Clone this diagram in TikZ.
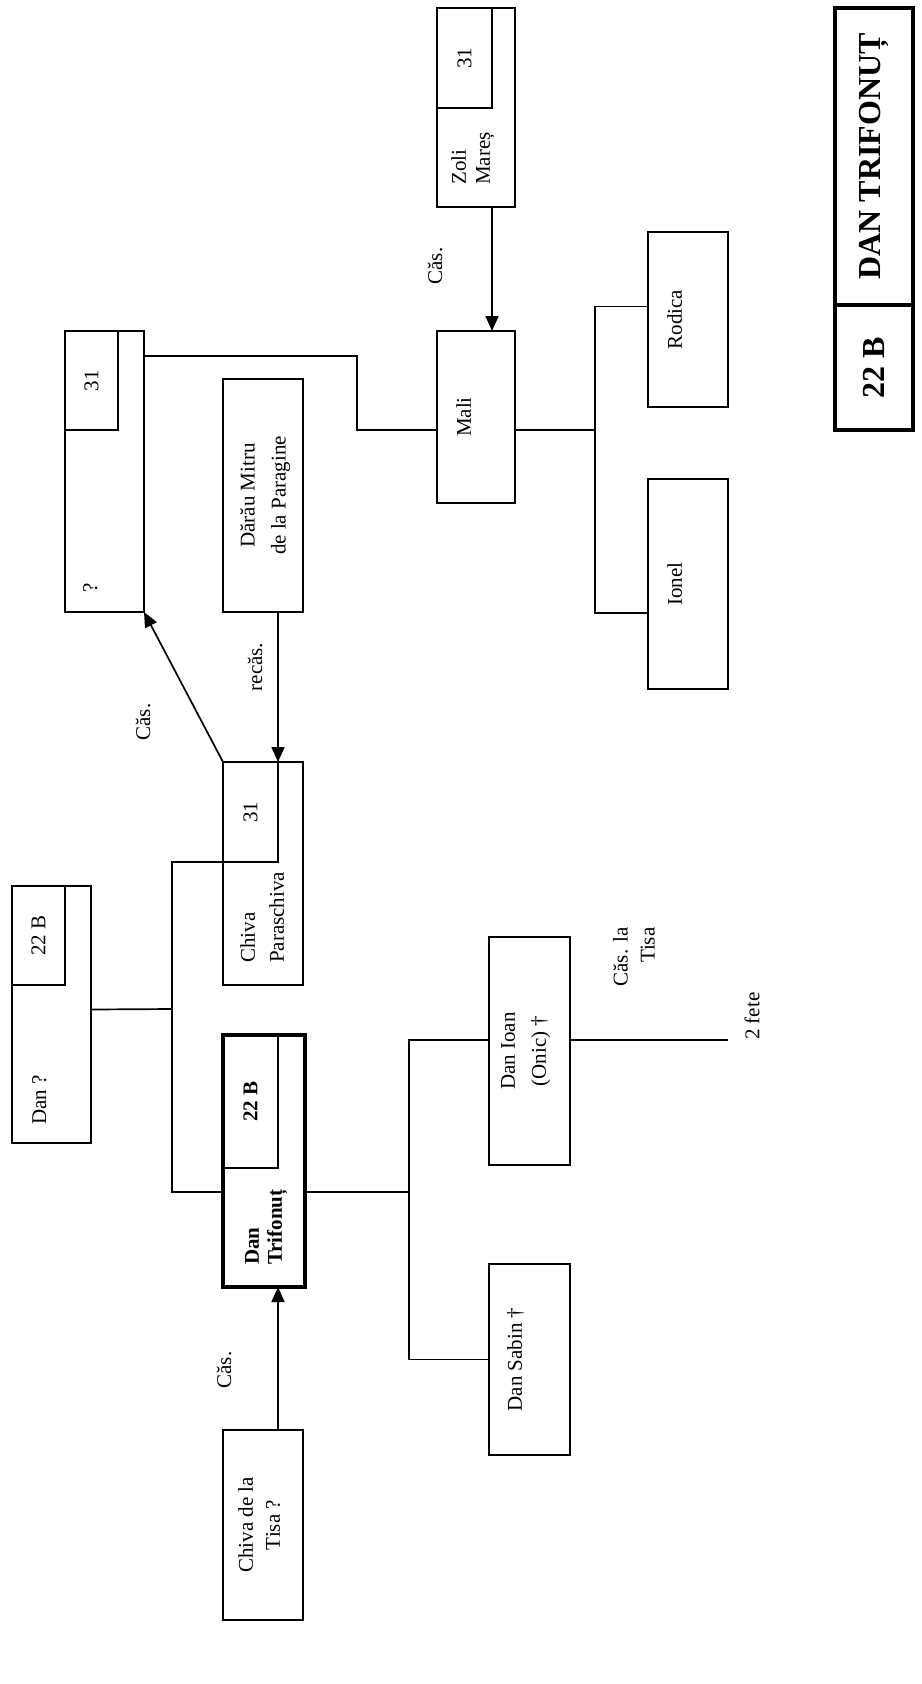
\documentclass[tikz,border=0pt]{standalone}
\usepackage{graphicx}
\usepackage{fontspec}
\setmainfont{Liberation Serif}
\usetikzlibrary{arrows.meta}
\newcommand{\boxfont}{\fontsize{21}{27}\selectfont}
\newcommand{\titlefont}{\fontsize{32}{38}\selectfont\bfseries}

\begin{document}
\begin{tikzpicture}[x=1pt,y=-1pt,
  box/.style={draw, line width=1.7pt, inner sep=0pt, outer sep=0pt, anchor=north west, font=\boxfont},
  txt/.style={rotate=90, inner sep=0pt, font=\boxfont, align=center},
  lbl/.style={rotate=90, inner sep=0pt, font=\boxfont},
  link/.style={line width=1.7pt},
  arr/.style={line width=1.7pt, -{Triangle[length=15pt,width=13pt]}}]
  \useasboundingbox (0,0) rectangle (921,1684);

  % upper branch
  \node[box, minimum width=78pt, minimum height=199pt] (zoli) at (437,8) {};
  \node[box, minimum width=55pt, minimum height=100pt] (zolin) at (zoli.north west) {\rotatebox{90}{31}};
  \node[txt, anchor=north west, align=left, font=\fontsize{21}{24}\selectfont] (zolit) at ([xshift=14pt,yshift=22pt]zoli.south west) {Zoli\\Mareș};

  \node[box, minimum width=78pt, minimum height=172pt] (mali) at (437,331) {};
  \node[txt, anchor=north] (malit) at ([xshift=19pt]mali.west) {Mali};

  \node[box, minimum width=79pt, minimum height=281pt] (q) at (65,331) {};
  \node[box, minimum width=53pt, minimum height=99pt] (qin) at (q.north west) {\rotatebox{90}{31}};
  \node[txt, anchor=north west] (qt) at ([xshift=18pt,yshift=19pt]q.south west) {?};

  \node[box, minimum width=80pt, minimum height=233pt] (darau) at (223,379) {};
  \node[txt, anchor=north, font=\fontsize{21}{31}\selectfont] (darault) at ([xshift=17pt]darau.west) {Dărău Mitru\\de la Paragine};

  \node[box, minimum width=80pt, minimum height=175pt] (rodica) at (648,232) {};
  \node[txt, anchor=north] (rodicat) at ([xshift=19pt]rodica.west) {Rodica};
  \node[box, minimum width=80pt, minimum height=210pt] (ionel) at (648,479) {};
  \node[txt, anchor=north] (ionelt) at ([xshift=19pt]ionel.west) {Ionel};

  % parents
  \node[box, minimum width=80pt, minimum height=223pt] (chivap) at (223,762) {};
  \node[box, minimum width=55pt, minimum height=100pt] (chivapin) at (chivap.north west) {\rotatebox{90}{31}};
  \node[txt, anchor=north west, align=left, font=\fontsize{21}{29}\selectfont] (chivapt) at ([xshift=17pt,yshift=22pt]chivap.south west) {Chiva\\Paraschiva};

  \node[box, minimum width=79pt, minimum height=257pt] (danq) at (12,886) {};
  \node[box, minimum width=53pt, minimum height=99pt] (danqin) at (danq.north west) {\rotatebox{90}{22 B}};
  \node[txt, anchor=north west] (danqt) at ([xshift=20pt,yshift=18pt]danq.south west) {Dan ?};

  % main person
  \node[box, line width=3.5pt, minimum width=82pt, minimum height=252pt] (dantrif) at (223,1035) {};
  \node[box, line width=2.5pt, minimum width=55pt, minimum height=133pt, font=\boxfont\bfseries] (dantrifin) at (dantrif.north west) {\rotatebox{90}{22 B}};
  \node[txt, anchor=north west, align=left, font=\fontsize{21}{23}\selectfont\bfseries] (dantrift) at ([xshift=22pt,yshift=22pt]dantrif.south west) {Dan\\Trifonuț};

  \node[box, minimum width=80pt, minimum height=190pt] (chivat) at (223,1430) {};
  \node[txt, anchor=north] (chivatt) at ([xshift=15pt]chivat.west) {Chiva de la\\Tisa ?};

  % children
  \node[box, minimum width=81pt, minimum height=228pt] (dioan) at (489,937) {};
  \node[txt, anchor=north, font=\fontsize{21}{31}\selectfont] (dioant) at ([xshift=12pt]dioan.west) {Dan Ioan\\(Onic) †};
  \node[box, minimum width=81pt, minimum height=191pt] (dsabin) at (489,1264) {};
  \node[txt, anchor=north] (dsabint) at ([xshift=18pt]dsabin.west) {Dan Sabin †};

  % title
  \node[box, line width=3.5pt, minimum width=78pt, minimum height=297pt, font=\titlefont] (tname) at (835,8) {\rotatebox{90}{DAN TRIFONUȚ}};
  \node[box, line width=3.5pt, minimum width=78pt, minimum height=125pt, font=\titlefont] (tnum) at (tname.south west) {\rotatebox{90}{22 B}};

  % connectors
  \draw[link] ([yshift=-25pt]q.north east) -- ++(213,0) |- ([yshift=-13pt]mali.west);
  \draw[arr] (zolin.east |- zoli.south) -- (zolin.east |- mali.north);
  \node[lbl] (cas1) at (435,266) {Căs.};
  \draw[link] ([yshift=-13pt]mali.east) -- ++(80,0) coordinate (mk);
  \draw[link] ([yshift=13pt]rodica.west) -| (mk) |- ([yshift=-29pt]ionel.west);

  \draw[arr] (chivap.north west) -- (q.south east);
  \node[lbl] (cas2) at (143,722) {Căs.};
  \draw[arr] (chivapin.east |- darau.south) -- (chivapin.east |- chivap.north);
  \node[lbl] (recas) at (255,667) {recăs.};

  \draw[link] (chivapin.south east) -| (172,1009) coordinate (pj) |- ([yshift=-31pt]dantrif.west);
  \draw[link] ([yshift=5pt]danq.east) -- (pj);

  \draw[link] ([yshift=-31pt]dantrif.east) -- ++(104,0) coordinate (cj);
  \draw[link] ([yshift=11pt]dioan.west) -| (cj) |- (dsabin.west);
  \draw[link] ([yshift=11pt]dioan.east) -- ++(158,0) coordinate (fe);
  \node[lbl, anchor=west] (fete) at ([xshift=24pt]fe) {2 fete};
  \node[lbl, align=right] (castisa) at (634,957) {Căs. la\\Tisa};

  \draw[arr] (dantrifin.east |- chivat.north) -- (dantrifin.east |- dantrif.south);
  \node[lbl] (cas3) at (224,1370) {Căs.};
\end{tikzpicture}
\end{document}
